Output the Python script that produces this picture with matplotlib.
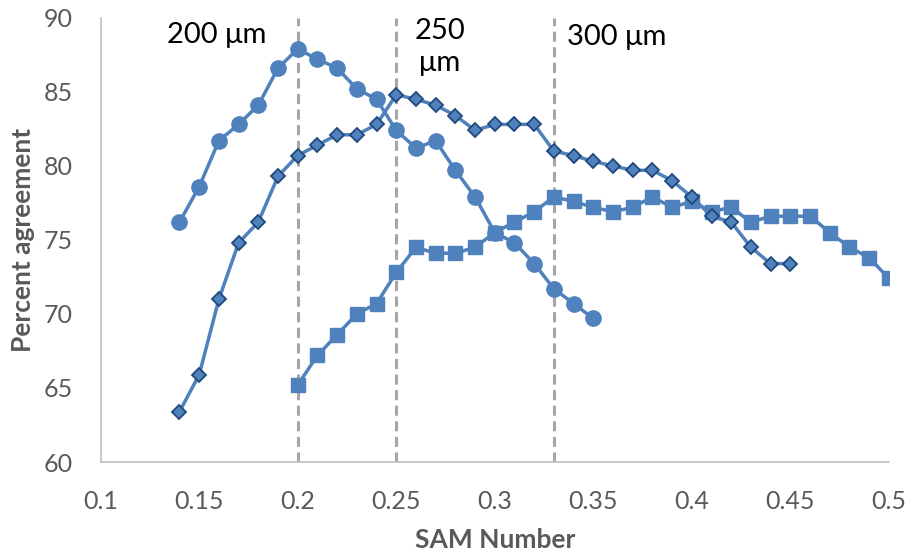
import matplotlib.pyplot as plt
import numpy as np

plt.rcParams['font.family'] = ['Lato', 'DejaVu Sans']

circle_x = [0.14, 0.15, 0.16, 0.17, 0.18, 0.19, 0.20, 0.21, 0.22, 0.23, 0.24,
            0.25, 0.26, 0.27, 0.28, 0.29, 0.30, 0.31, 0.32, 0.33, 0.34, 0.35]
circle_y = [76.2, 78.6, 81.7, 82.8, 84.1, 86.6, 87.9, 87.2, 86.6, 85.2, 84.5,
            82.4, 81.2, 81.7, 79.7, 77.9, 75.5, 74.8, 73.4, 71.7, 70.7, 69.7]

diamond_x = [0.14, 0.15, 0.16, 0.17, 0.18, 0.19, 0.20, 0.21, 0.22, 0.23, 0.24,
             0.25, 0.26, 0.27, 0.28, 0.29, 0.30, 0.31, 0.32, 0.33, 0.34, 0.35,
             0.36, 0.37, 0.38, 0.39, 0.40, 0.41, 0.42, 0.43, 0.44, 0.45]
diamond_y = [63.4, 65.9, 71.0, 74.8, 76.2, 79.3, 80.7, 81.4, 82.1, 82.1, 82.8,
             84.8, 84.5, 84.1, 83.4, 82.4, 82.8, 82.8, 82.8, 81.0, 80.7, 80.3,
             80.0, 79.7, 79.7, 79.0, 77.9, 76.6, 76.2, 74.5, 73.4, 73.4]

square_x = [0.20, 0.21, 0.22, 0.23, 0.24, 0.25, 0.26, 0.27, 0.28, 0.29, 0.30,
            0.31, 0.32, 0.33, 0.34, 0.35, 0.36, 0.37, 0.38, 0.39, 0.40, 0.41,
            0.42, 0.43, 0.44, 0.45, 0.46, 0.47, 0.48, 0.49, 0.50]
square_y = [65.2, 67.2, 68.6, 70.0, 70.7, 72.8, 74.5, 74.1, 74.1, 74.5, 75.5,
            76.2, 76.9, 77.9, 77.6, 77.2, 76.9, 77.2, 77.9, 77.2, 77.6, 76.9,
            77.2, 76.2, 76.6, 76.6, 76.6, 75.5, 74.5, 73.8, 72.4]

vlines = [0.2, 0.25, 0.33]
vline_labels = ['200 \u03bcm', '250\n\u03bcm', '300 \u03bcm']

blue = '#4f81bd'
dark = '#1f497d'
grey = '#595959'

fig = plt.figure(figsize=(9.07, 5.56), dpi=100)
ax = fig.add_axes([0.111, 0.169, 0.869, 0.799])

for v in vlines:
    ax.axvline(v, color='#a6a6a6', linestyle=(0, (3.3, 1.8)), linewidth=2.2, zorder=1)

ax.plot(circle_x, circle_y, color=blue, linewidth=2.5, marker='o', markersize=11,
        markeredgecolor=blue, zorder=3)
ax.plot(diamond_x, diamond_y, color=blue, linewidth=2.5, marker='D', markersize=7.5,
        markeredgecolor=dark, markeredgewidth=1.3, zorder=4)
ax.plot(square_x, square_y, color=blue, linewidth=2.5, marker='s', markersize=9.5,
        markeredgecolor=blue, zorder=3)

ax.text(0.159, 88.85, vline_labels[0], fontsize=21, ha='center', va='center')
ax.text(0.272, 88.05, vline_labels[1], fontsize=21, ha='center', va='center', linespacing=1.3)
ax.text(0.362, 88.7, vline_labels[2], fontsize=21, ha='center', va='center')

ax.set_xlim(0.1, 0.5)
ax.set_ylim(60, 90)
ax.set_xticks([0.1, 0.15, 0.2, 0.25, 0.3, 0.35, 0.4, 0.45, 0.5])
ax.set_xticklabels(['0.1', '0.15', '0.2', '0.25', '0.3', '0.35', '0.4', '0.45', '0.5'])
ax.set_yticks([60, 65, 70, 75, 80, 85, 90])
ax.tick_params(length=0, labelsize=18, colors=grey)
ax.tick_params(axis='y', pad=20)
ax.tick_params(axis='x', pad=20)

for s in ['top', 'right']:
    ax.spines[s].set_visible(False)
for s in ['left', 'bottom']:
    ax.spines[s].set_color('#bfbfbf')
    ax.spines[s].set_linewidth(1.2)

ax.set_xlabel('SAM Number', fontsize=19, fontweight='bold', color=grey, va='center')
ax.set_ylabel('Percent agreement', fontsize=19, fontweight='bold', color=grey, va='center')
ax.xaxis.set_label_coords(0.5, -0.176)
ax.yaxis.set_label_coords(-0.098, 0.5)

plt.savefig('out.png')
